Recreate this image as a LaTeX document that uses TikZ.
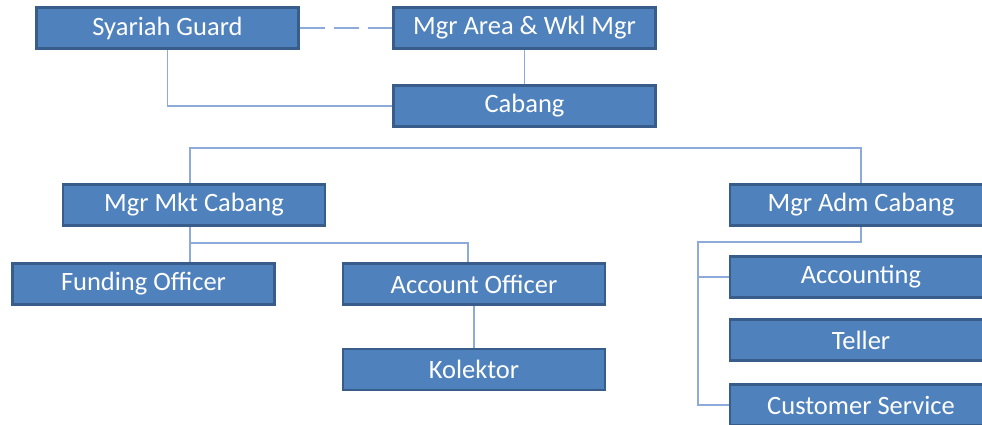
\documentclass[tikz,border=0pt]{standalone}
\usepackage{fontspec}
\setmainfont{Carlito}
\definecolor{boxblue}{HTML}{4F81BD}
\definecolor{boxedge}{HTML}{385D8A}
\definecolor{linkblue}{HTML}{8EAADB}

\begin{document}
\begin{tikzpicture}[x=1pt,y=-1pt,
    orgbox/.style={draw=boxedge,fill=boxblue,line width=2.8pt,minimum width=262pt,
      minimum height=41pt,inner sep=0pt,text=white,font=\fontsize{26.5}{30}\selectfont},
    link/.style={linkblue,line width=1.9pt}]
      \clip (0,0) rectangle (982,425);
      \fill[white] (0,0) rectangle (982,425);
      % top level
      \node[orgbox] (sg) at (167.5,28) {Syariah Guard};
      \node[orgbox] (ma) at (524.5,28) {Mgr Area \& Wkl Mgr};
      \node[orgbox] (cab) at (524.5,106) {Cabang};
      % managers
      \node[orgbox] (mm) at (194,205) {Mgr Mkt Cabang};
      \node[orgbox] (madm) at (861,205) {Mgr Adm Cabang};
      % marketing staff
      \node[orgbox] (fo) at (143.5,284) {Funding Officer};
      \node[orgbox] (ao) at (474,284) {Account Officer};
      \node[orgbox] (kol) at (474,369.5) {Kolektor};
      % admin staff
      \foreach \nm/\yy/\txt in {acc/277/Accounting,tel/340/Teller,cs/405/Customer Service}{
        \node[orgbox] (\nm) at (861,\yy) {\txt};
      }
      \coordinate (admrail) at (698,0);

      \draw[link,dash pattern=on 25pt off 9pt] (sg.east) -- (ma.west);
      \draw[link] (sg.south) |- (cab.west);
      \draw[link] (ma.south) -- (cab.north);
      \draw[link] ([xshift=-4pt]mm.north) -- ++(0,-35) -| (madm.north);
      \draw[link] ([xshift=-4pt]mm.south) -- ++(0,16) coordinate (mkfork) -- (mkfork |- fo.north);
      \draw[link] (mkfork) -| ([xshift=-6pt]ao.north);
      \draw[link] (ao.south) -- (kol.north);
      \draw[link] (madm.south) -- ++(0,15) -| (admrail |- cs.west) -- (cs.west);
      \draw[link] (admrail |- acc.west) -- (acc.west);
    \end{tikzpicture}
\end{document}
